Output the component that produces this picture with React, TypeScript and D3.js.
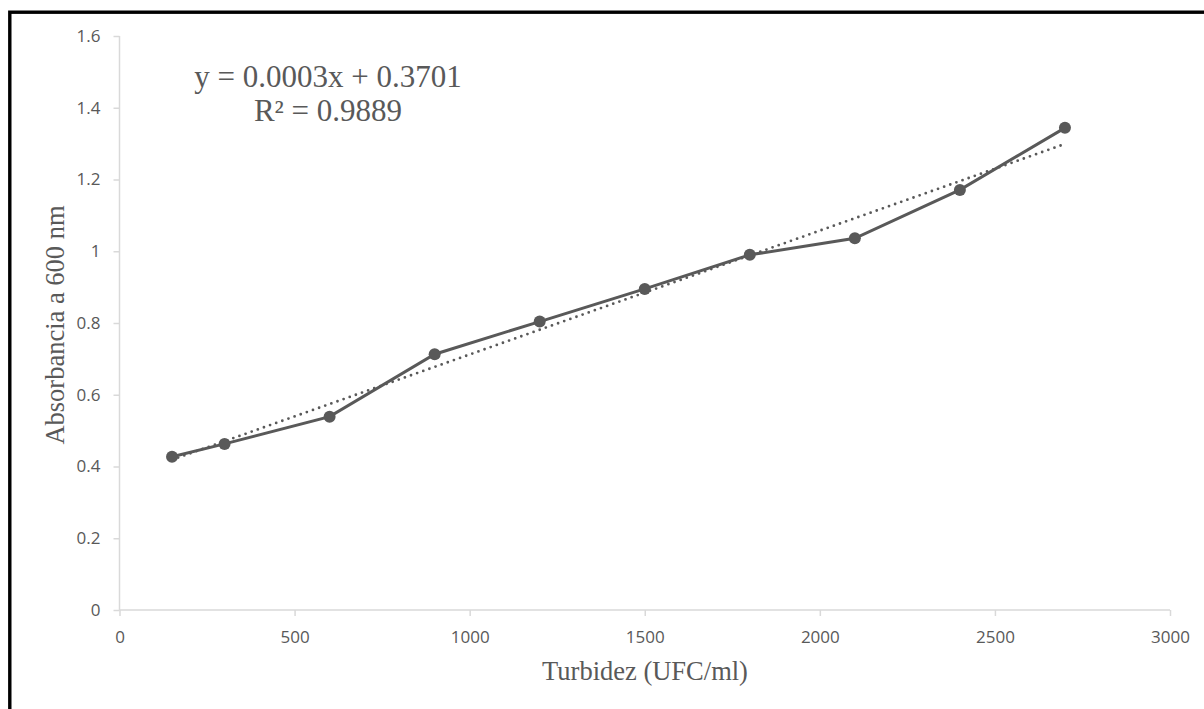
import { useEffect, useRef } from 'react';
import * as d3 from 'd3';

// Turbidez (UFC/ml) vs absorbancia a 600 nm
const turbidez = [150, 300, 600, 900, 1200, 1500, 1800, 2100, 2400, 2700];
const absorbancia = [0.427, 0.463, 0.539, 0.713, 0.804, 0.895, 0.99, 1.036, 1.171, 1.344];
const xTicks = [0, 500, 1000, 1500, 2000, 2500, 3000];
const yTicks = [0, 0.2, 0.4, 0.6, 0.8, 1, 1.2, 1.4, 1.6];
const equationText = 'y = 0.0003x + 0.3701';
const r2Text = 'R² = 0.9889';

const W = 1204;
const H = 709;
const GRAY = '#595959';
const AXIS = '#d9d9d9';
const SERIF = '"Liberation Serif", "Times New Roman", serif';

const App = () => {
  const svgRef = useRef<SVGSVGElement>(null);

  useEffect(() => {
    if (!svgRef.current) return;
    const svg = d3.select(svgRef.current);
    svg.selectAll('*').remove();

    const x = d3.scaleLinear().domain([0, 3000]).range([119.5, 1170]);
    const y = d3.scaleLinear().domain([0, 1.6]).range([610, 36]);

    // marco
    svg.append('rect')
      .attr('x', 9.8).attr('y', 12.2)
      .attr('width', W + 50).attr('height', H + 50)
      .attr('fill', 'none').attr('stroke', '#000').attr('stroke-width', 3.4);

    // ejes
    const xAxis = svg.append('g')
      .attr('transform', `translate(0,${y(0)})`)
      .call(d3.axisBottom(x).tickValues(xTicks).tickSize(6).tickPadding(15).tickFormat(d3.format('d')));
    const yAxis = svg.append('g')
      .attr('transform', `translate(${x(0)},0)`)
      .call(d3.axisLeft(y).tickValues(yTicks).tickSize(6).tickPadding(13).tickFormat(d => String(+d)));

    [xAxis, yAxis].forEach(g => {
      g.attr('font-size', null).attr('font-family', null);
      g.select('.domain').attr('stroke', AXIS).attr('stroke-width', 1.5);
      g.selectAll('.tick line').attr('stroke', AXIS).attr('stroke-width', 1.5);
      g.selectAll('.tick text')
        .attr('fill', GRAY)
        .style('font-family', '"Open Sans", sans-serif')
        .style('font-size', '17px');
    });
    yAxis.select('.domain').attr('d', `M0,${y(1.6)}V${y(0)}`);
    xAxis.select('.domain').attr('d', `M0,0H${x(3000) - x(0)}`).attr('transform', `translate(${x(0)},0)`);

    // línea de tendencia (regresión lineal)
    const pts = turbidez.map((t, i) => [t, absorbancia[i]] as [number, number]);
    const mx = d3.mean(turbidez) as number;
    const my = d3.mean(absorbancia) as number;
    const slope = d3.sum(pts, p => (p[0] - mx) * (p[1] - my)) / d3.sum(pts, p => (p[0] - mx) ** 2);
    const icpt = my - slope * mx;
    const ext = d3.extent(turbidez) as [number, number];

    svg.append('line')
      .attr('x1', x(ext[0])).attr('y1', y(slope * ext[0] + icpt))
      .attr('x2', x(ext[1])).attr('y2', y(slope * ext[1] + icpt))
      .attr('stroke', GRAY)
      .attr('stroke-width', 2.8)
      .attr('stroke-linecap', 'round')
      .attr('stroke-dasharray', '0 6.5');

    // serie
    const line = d3.line<[number, number]>()
      .x(d => x(d[0]))
      .y(d => y(d[1]));
    svg.append('path')
      .datum(pts)
      .attr('d', line)
      .attr('fill', 'none')
      .attr('stroke', GRAY)
      .attr('stroke-width', 3);

    svg.selectAll('.pt')
      .data(pts)
      .enter()
      .append('circle')
      .attr('cx', d => x(d[0]))
      .attr('cy', d => y(d[1]))
      .attr('r', 6)
      .attr('fill', GRAY);

    // ecuación
    const eq = svg.append('g')
      .attr('fill', GRAY)
      .style('font-family', SERIF)
      .style('font-size', '31px')
      .attr('text-anchor', 'middle');
    eq.append('text').attr('x', 328).attr('y', 87).text(equationText);
    eq.append('text').attr('x', 328).attr('y', 121).text(r2Text);

    // títulos de ejes
    svg.append('text')
      .attr('x', 645).attr('y', 680)
      .attr('text-anchor', 'middle')
      .attr('fill', GRAY)
      .style('font-family', SERIF)
      .style('font-size', '26.5px')
      .text('Turbidez (UFC/ml)');

    svg.append('text')
      .attr('transform', `translate(64,325) rotate(-90)`)
      .attr('text-anchor', 'middle')
      .attr('fill', GRAY)
      .style('font-family', SERIF)
      .style('font-size', '26.5px')
      .text('Absorbancia a 600 nm');
  }, []);

  return (
    <svg
      ref={svgRef}
      width={W}
      height={H}
      viewBox={`0 0 ${W} ${H}`}
      style={{ position: 'absolute', left: 0, top: 0, background: '#fff' }}
    />
  );
};

export default App;
